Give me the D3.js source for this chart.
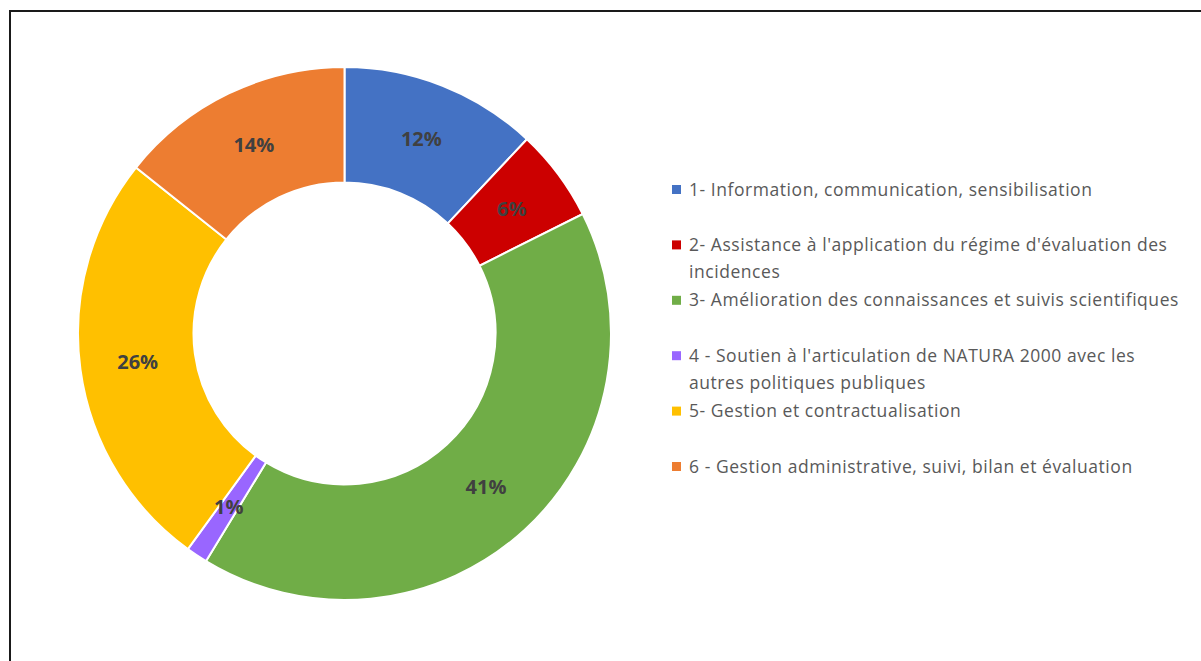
<!DOCTYPE html>
<html>
<head>
<meta charset="utf-8">
<script src="https://cdn.jsdelivr.net/npm/d3@7"></script>
<style>
  body { margin: 0; background: #fff; }
  svg { display: block; }
</style>
</head>
<body>
<div id="chart"></div>
<script>
// categories and shares
var categories = [
  "1- Information, communication, sensibilisation",
  "2- Assistance à l'application du régime d'évaluation des incidences",
  "3- Amélioration des connaissances et suivis scientifiques",
  "4 - Soutien à l'articulation de NATURA 2000 avec les autres politiques publiques",
  "5- Gestion et contractualisation",
  "6 - Gestion administrative, suivi, bilan et évaluation"
];
var values = [12.0, 5.6, 41.1, 1.3, 25.7, 14.3];
var colors = ["#4472C4", "#CC0000", "#70AD47", "#9966FF", "#FFC000", "#ED7D31"];

function init() {
  var w = 1201, h = 661;
  var font = "'Open Sans', 'Liberation Sans', sans-serif";

  var svg = d3.select("#chart").append("svg")
    .attr("width", w)
    .attr("height", h);

  // outer frame
  svg.append("rect")
    .attr("x", 10).attr("y", 11)
    .attr("width", 1200).attr("height", 700)
    .attr("fill", "none")
    .attr("stroke", "#1a1a1a")
    .attr("stroke-width", 2);

  var cx = 344.5, cy = 333.5;
  var outerR = 266.5, innerR = 151;

  var total = d3.sum(values);
  var pie = d3.pie().sort(null).value(function(d){ return d; });
  var arc = d3.arc().innerRadius(innerR).outerRadius(outerR);

  var g = svg.append("g").attr("transform", "translate(" + cx + "," + cy + ")");

  var arcs = pie(values);

  g.selectAll("path")
    .data(arcs)
    .enter()
    .append("path")
    .attr("d", arc)
    .attr("fill", function(d,i){ return colors[i]; })
    .attr("stroke", "#fff")
    .attr("stroke-width", 2);

  g.selectAll("text.lbl")
    .data(arcs)
    .enter()
    .append("text")
    .attr("class", "lbl")
    .attr("transform", function(d){ return "translate(" + arc.centroid(d) + ")"; })
    .attr("text-anchor", "middle")
    .attr("dy", "0.35em")
    .attr("font-family", font)
    .attr("font-weight", "bold")
    .attr("font-size", 20)
    .attr("fill", "#404040")
    .text(function(d){ return Math.round(d.value / total * 100) + "%"; });

  // legend
  var legX = 672, legY = 189.5, step = 55.4, lineH = 27, maxW = 495;
  var leg = svg.append("g");

  categories.forEach(function(c, i) {
    var y = legY + i * step;
    leg.append("rect")
      .attr("x", legX).attr("y", y - 4.5)
      .attr("width", 9).attr("height", 9)
      .attr("fill", colors[i]);

    var t = leg.append("text")
      .attr("font-family", font)
      .attr("font-size", 17.5)
      .attr("letter-spacing", 0.55)
      .attr("fill", "#595959");

    // wrap words to maxW
    var words = c.split(" ");
    var line = [];
    var lineNo = 0;
    var ts = t.append("tspan").attr("x", legX + 17).attr("y", y).attr("dy", "0.35em");
    words.forEach(function(wd) {
      line.push(wd);
      ts.text(line.join(" "));
      if (ts.node().getComputedTextLength() > maxW && line.length > 1) {
        line.pop();
        ts.text(line.join(" "));
        line = [wd];
        lineNo++;
        ts = t.append("tspan").attr("x", legX + 17).attr("y", y + lineNo * lineH).attr("dy", "0.35em").text(wd);
      }
    });
  });
}

window.onload = init;
</script>
</body>
</html>
